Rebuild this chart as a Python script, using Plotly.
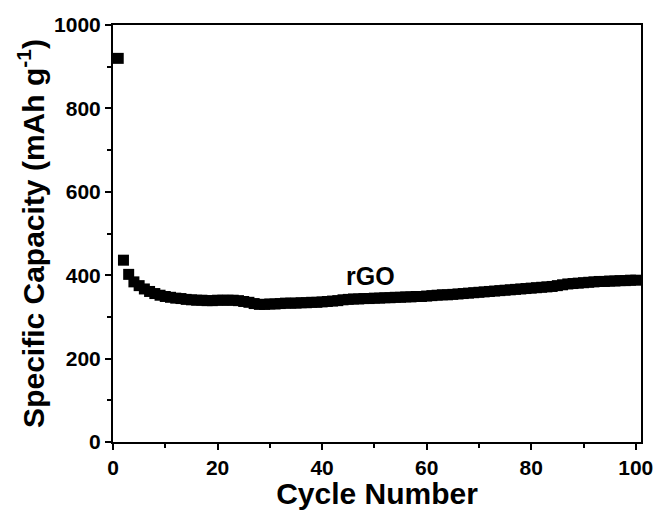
import plotly.graph_objects as go

cycles = list(range(1, 101))
capacity = [
    920, 436, 402, 384, 375, 367, 361, 356, 352, 349,
    347, 345, 344, 342, 341, 340, 340, 339, 339, 340,
    340, 340, 340, 339, 337, 335, 332, 330, 330, 331,
    331, 332, 333, 333, 333, 334, 334, 335, 335, 336,
    337, 338, 339, 341, 342, 343, 343, 344, 344, 345,
    345, 346, 346, 347, 347, 348, 348, 349, 349, 350,
    351, 352, 353, 353, 354, 355, 356, 357, 358, 359,
    360, 361, 362, 363, 364, 365, 366, 367, 368, 369,
    370, 371, 372, 373, 375, 377, 379, 380, 381, 382,
    383, 384, 385, 385, 386, 386, 387, 387, 388, 388,
]
x_ticks = [0, 20, 40, 60, 80, 100]
y_ticks = [0, 200, 400, 600, 800, 1000]
label_text = "rGO"
label_pos = (49.3, 398)

FONT = "Arial, 'Liberation Sans', Helvetica, sans-serif"

fig = go.Figure()
fig.add_trace(go.Scatter(
    x=cycles, y=capacity, mode="markers",
    marker=dict(symbol="square", size=11, color="black", line=dict(width=0)),
    showlegend=False,
))

fig.add_annotation(
    x=label_pos[0], y=label_pos[1], text=label_text, showarrow=False,
    font=dict(family=FONT, size=25, color="black", weight="bold"),
    xanchor="center", yanchor="middle",
)

axis_common = dict(
    showgrid=False, zeroline=False,
    showline=True, linecolor="black", linewidth=2, mirror=True,
    ticks="outside", tickcolor="black", tickwidth=2, ticklen=6,
    tickfont=dict(family=FONT, size=21, color="black", weight="bold"),
    title_font=dict(family=FONT, size=30, color="black", weight="bold"),
)

fig.update_xaxes(
    range=[0, 101], tickvals=x_ticks, ticktext=[str(v) for v in x_ticks],
    title_text="Cycle Number", title_standoff=3,
    minor=dict(ticks="outside", dtick=10, tick0=0, ticklen=4, tickwidth=2, tickcolor="black"),
    **axis_common,
)
fig.update_yaxes(
    range=[0, 1000], tickvals=y_ticks, ticktext=[str(v) for v in y_ticks],
    title_text="Specific Capacity (mAh g<sup>-1</sup>)", title_standoff=1,
    minor=dict(ticks="outside", dtick=100, tick0=0, ticklen=4, tickwidth=2, tickcolor="black"),
    **axis_common,
)

fig.update_layout(
    width=660, height=510,
    margin=dict(l=113, r=19, t=25, b=68, autoexpand=False),
    plot_bgcolor="white", paper_bgcolor="white",
)

fig.write_html("out.html")
